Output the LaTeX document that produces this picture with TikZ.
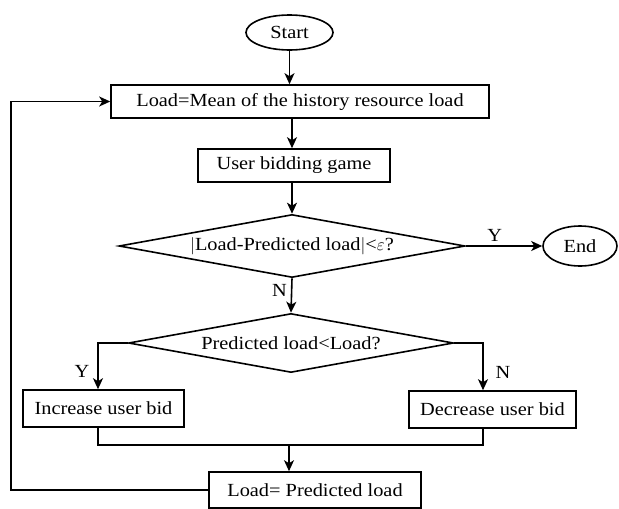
\documentclass[tikz,border=0pt]{standalone}
\usepackage{fontspec}
\setmainfont[FakeStretch=1.1]{Liberation Serif}
\usetikzlibrary{shapes.geometric,arrows.meta}
\begin{document}
\begin{tikzpicture}[x=1pt,y=-1pt,
  every node/.style={font=\fontsize{18.5}{20}\selectfont, inner sep=0pt},
  line/.style={line width=1.6pt},
  arr/.style={line width=1.6pt,-{Stealth[length=11pt,width=10pt,inset=3pt]}},
  term/.style={draw,line width=1.6pt,ellipse},
  procbox/.style={draw,line width=1.6pt,rectangle},
  decide/.style={draw,line width=1.6pt,diamond,aspect=5.5}]
\useasboundingbox (0,0) rectangle (619,509);
\node[term,minimum width=87pt,minimum height=35pt] (start) at (289.5,32.5) {Start};
\node[procbox,minimum width=378pt,minimum height=33pt] (mean) at (300,101.5) {Load=Mean of the history resource load};
\node[procbox,minimum width=192pt,minimum height=33pt] (bid) at (294,165.5) {User bidding game};
\node[decide,minimum width=346pt,minimum height=63pt] (d1) at (292,246) {$|$Load-Predicted load$|$<$\varepsilon$?};
\node[term,minimum width=74pt,minimum height=40pt] (end) at (580,246) {End};
\node[decide,minimum width=325pt,minimum height=59pt] (d2) at (291,343) {Predicted load<Load?};
\node[procbox,minimum width=161pt,minimum height=37pt] (inc) at (103.5,408.5) {Increase user bid};
\node[procbox,minimum width=167pt,minimum height=37pt] (dec) at (492.5,409.5) {Decrease user bid};
\node[procbox,minimum width=212pt,minimum height=36pt] (pred) at (315,490) {Load= Predicted load};
\coordinate (ly) at (98,343);
\coordinate (ry) at (483,343);
\coordinate (mg) at (289,445);
\coordinate (lp) at (11,490);
\draw[arr] (start.south) -- (start.south |- mean.north);
\draw[arr] (mean.south -| d1.north) -- (bid.north -| d1.north);
\draw[arr] (bid.south -| d1.north) -- (d1.north);
\draw[arr] (d1.east) -- (end.west) node[pos=0.38,above=4pt] (ylab) {Y};
\draw[arr] (d1.south) -- (d2.north) node[pos=0.35,left=4pt] (nlab) {N};
\draw[arr] (d2.west) -- (ly) -- (ly |- inc.north);
\draw[arr] (d2.east) -- (ry) -- (ry |- dec.north);
\node (ylab2) at (82,371) {Y};
\node (nlab2) at (503,372) {N};
\draw[line] (ly |- inc.south) -- (ly |- mg) -- (ry |- mg) -- (ry |- dec.south);
\draw[arr] (mg) -- (mg |- pred.north);
\draw[arr] (pred.west) -- (lp) -- (lp |- mean.west) -- (mean.west);
\end{tikzpicture}
\end{document}
